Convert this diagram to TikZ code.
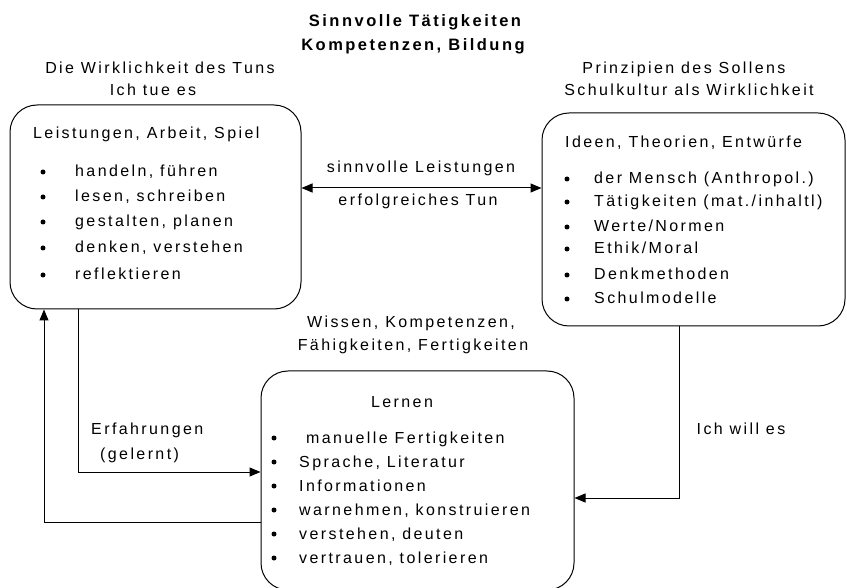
\documentclass[tikz,border=0pt]{standalone}
\usepackage{fontspec}
\setmainfont[LetterSpace=15]{Liberation Sans}
\usetikzlibrary{arrows.meta}
\begin{document}
\begin{tikzpicture}[x=1pt,y=-1pt,
  box/.style={draw,line width=1pt,rounded corners=27pt,inner sep=0pt},
  txt/.style={inner sep=0pt,anchor=base west,font=\fontsize{16}{18}\selectfont},
  ctxt/.style={inner sep=0pt,anchor=base,font=\fontsize{16}{18}\selectfont},
  ttl/.style={inner sep=0pt,anchor=base,font=\fontsize{16.5}{18}\selectfont\bfseries},
  bul/.style={circle,fill,inner sep=0pt,minimum size=5pt},
  conn/.style={line width=1pt},
  arr/.tip={Triangle[length=11pt,width=9pt]}]
\useasboundingbox (0,0) rectangle (847,588);
% boxes
\node[box,minimum width=291pt,minimum height=204pt] (lbox) at (155.5,207) {};
\node[box,minimum width=303pt,minimum height=213pt] (rbox) at (693.5,219.5) {};
\node[box,minimum width=313pt,minimum height=219pt] (bbox) at (417.5,480.5) {};
% title
\node[ttl] (t1) at (415,27) {Sinnvolle Tätigkeiten};
\node[ttl] (t2) at (413,51) {Kompetenzen, Bildung};
% headings
\node[ctxt] (h1) at (160,74) {Die Wirklichkeit des Tuns};
\node[ctxt] (h2) at (153,96) {Ich tue es};
\node[ctxt] (h3) at (684,74) {Prinzipien des Sollens};
\node[ctxt] (h4) at (689,96) {Schulkultur als Wirklichkeit};
% left box contents
\node[txt] (lh) at (33,139) {Leistungen, Arbeit, Spiel};
\foreach \t [count=\i] in {{handeln, führen},{lesen, schreiben},{gestalten, planen},{denken, verstehen},{reflektieren}}{
  \pgfmathsetmacro\yy{{177,202,227,253,280}[\i-1]}
  \node[bul] (lb\i) at (43,\yy-5) {};
  \node[txt] (li\i) at (75,\yy) {\t};
}
% right box contents
\node[txt] (rh) at (565,148) {Ideen, Theorien, Entwürfe};
\foreach \t [count=\i] in {{der Mensch (Anthropol.)},{Tätigkeiten (mat./inhaltl)},{Werte/Normen},{Ethik/Moral},{Denkmethoden},{Schulmodelle}}{
  \pgfmathsetmacro\yy{{184,207,232,254,280,304}[\i-1]}
  \node[bul] (rb\i) at (567,\yy-5) {};
  \node[txt] (ri\i) at (594,\yy) {\t};
}
% bottom box contents
\node[ctxt] (bh) at (402,407) {Lernen};
\foreach \t [count=\i] in {{\ manuelle Fertigkeiten},{Sprache, Literatur},{Informationen},{warnehmen, konstruieren},{verstehen, deuten},{vertrauen, tolerieren}}{
  \pgfmathsetmacro\yy{{443,467,491,515,539,563}[\i-1]}
  \node[bul] (bb\i) at (274,\yy-5) {};
  \node[txt] (bi\i) at (299,\yy) {\t};
}
% middle labels
\node[ctxt] (m1) at (421,173) {sinnvolle Leistungen};
\node[ctxt] (m2) at (418,206) {erfolgreiches Tun};
\node[ctxt] (m3) at (411,328) {Wissen, Kompetenzen,};
\node[ctxt] (m4) at (413,351) {Fähigkeiten, Fertigkeiten};
\node[txt] (e1) at (91,435) {Erfahrungen};
\node[txt] (e2) at (100,459) {(gelernt)};
\node[ctxt] (w1) at (741,435) {Ich will es};
% connector coordinates
\coordinate (ym) at (0,188);
\coordinate (xa) at (78,0);
\coordinate (ya) at (0,472);
\coordinate (xb) at (44,0);
\coordinate (yb) at (0,522);
\coordinate (xc) at (679,0);
\coordinate (yc) at (0,498);
% connectors
\draw[conn,arr-arr] (lbox.east |- ym) -- (rbox.west |- ym);
\draw[conn,-arr] (lbox.south -| xa) |- (bbox.west |- ya);
\draw[conn,-arr] (bbox.west |- yb) -| (lbox.south -| xb);
\draw[conn,-arr] (rbox.south -| xc) |- (bbox.east |- yc);
\end{tikzpicture}
\end{document}
